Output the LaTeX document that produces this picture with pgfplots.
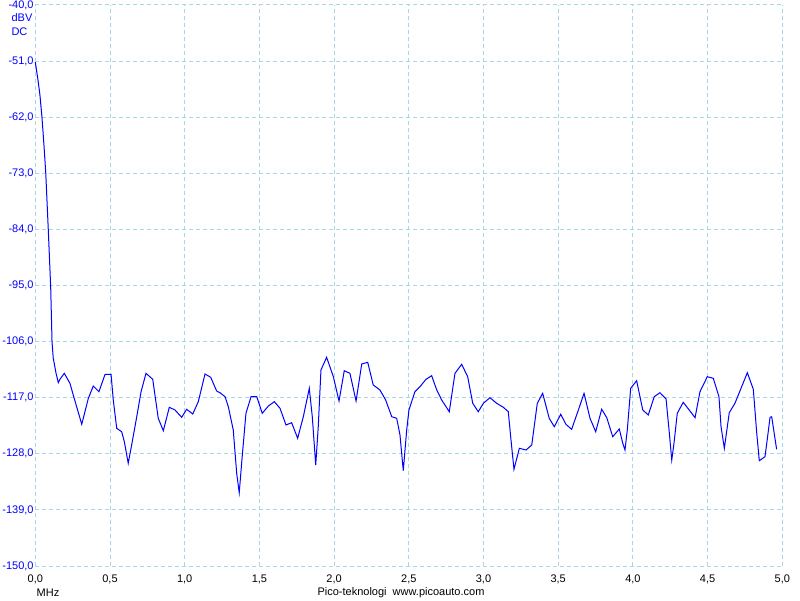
\documentclass[border=0pt]{standalone}
\usepackage{pgfplots}
\pgfplotsset{compat=1.18}
\usepackage{fontspec}
\setmainfont{Liberation Sans}
\definecolor{gridblue}{RGB}{165,215,230}
\definecolor{traceblue}{RGB}{0,0,255}
\begin{document}
\begin{tikzpicture}[x=1pt,y=1pt]
\path[use as bounding box] (0,0) rectangle (800,600);
\begin{axis}[
  at={(35.3pt,34pt)}, anchor=south west,
  scale only axis, width=747pt, height=561pt,
  xmin=0, xmax=5, ymin=-150, ymax=-40,
  xtick={0,0.5,1,1.5,2,2.5,3,3.5,4,4.5,5},
  xticklabels={{0,0},{0,5},{1,0},{1,5},{2,0},{2,5},{3,0},{3,5},{4,0},{4,5},{5,0}},
  ytick={-150,-139,-128,-117,-106,-95,-84,-73,-62,-51,-40},
  yticklabels={{-150,0},{-139,0},{-128,0},{-117,0},{-106,0},{-95,0},{-84,0},{-73,0},{-62,0},{-51,0},{-40,0}},
  grid=major,
  major grid style={gridblue, line width=1pt, dash pattern=on 4pt off 3pt},
  axis line style={draw=none},
  tick style={draw=none},
  yticklabel style={font=\fontsize{11}{12}\selectfont, text=traceblue, inner xsep=1.5pt},
  xticklabel style={font=\fontsize{11}{12}\selectfont, text=black, yshift=-5pt},
  clip=false,
]
\addplot[traceblue, line width=1pt] table {
x y
0.000 -51.2
0.018 -54.71
0.031 -57.65
0.045 -62.16
0.058 -67.45
0.070 -72.94
0.087 -84.12
0.103 -95.29
0.112 -106.08
0.120 -109.22
0.139 -112.22
0.154 -114.06
0.165 -113.39
0.194 -112.22
0.232 -114.18
0.254 -116.47
0.311 -122.22
0.355 -117.12
0.388 -114.71
0.426 -115.82
0.467 -112.41
0.507 -112.41
0.522 -117.45
0.545 -123.0
0.578 -123.67
0.596 -125.63
0.622 -129.86
0.645 -126.27
0.679 -120.73
0.708 -115.82
0.741 -112.22
0.786 -113.39
0.823 -121.04
0.857 -123.47
0.897 -118.88
0.935 -119.41
0.980 -120.84
1.013 -119.27
1.054 -120.20
1.091 -117.78
1.136 -112.35
1.174 -113.0
1.214 -115.69
1.236 -116.02
1.270 -116.80
1.292 -118.76
1.325 -123.33
1.348 -131.82
1.365 -135.63
1.382 -129.55
1.410 -120.06
1.444 -116.80
1.482 -116.80
1.519 -120.06
1.560 -118.63
1.600 -117.78
1.638 -119.08
1.678 -122.35
1.716 -121.90
1.756 -124.96
1.794 -120.73
1.834 -115.16
1.854 -120.73
1.877 -130.20
1.894 -122.69
1.912 -111.57
1.950 -109.08
1.995 -112.88
2.033 -117.65
2.068 -111.71
2.106 -112.22
2.147 -117.65
2.185 -110.39
2.225 -110.06
2.262 -114.51
2.307 -115.49
2.345 -117.45
2.386 -120.73
2.419 -121.04
2.441 -124.31
2.463 -131.31
2.486 -123.33
2.501 -119.41
2.541 -115.82
2.575 -114.84
2.615 -113.39
2.653 -112.69
2.687 -115.49
2.720 -117.45
2.771 -119.75
2.809 -112.22
2.854 -110.45
2.894 -112.88
2.928 -118.10
2.965 -119.75
2.999 -118.10
3.043 -117.0
3.088 -118.10
3.133 -118.88
3.166 -119.75
3.184 -125.29
3.204 -131.04
3.240 -126.92
3.285 -127.25
3.323 -126.27
3.360 -118.10
3.396 -116.14
3.440 -121.04
3.474 -122.69
3.517 -120.25
3.552 -122.22
3.590 -123.20
3.635 -119.41
3.673 -116.14
3.713 -121.04
3.751 -123.67
3.791 -119.27
3.825 -120.92
3.865 -124.65
3.909 -123.14
3.932 -125.94
3.947 -127.25
3.963 -123.20
3.985 -115.16
4.025 -113.67
4.066 -119.41
4.103 -120.39
4.143 -116.80
4.181 -116.02
4.222 -117.25
4.244 -123.98
4.260 -129.22
4.275 -125.94
4.297 -120.06
4.337 -117.90
4.377 -119.41
4.416 -120.92
4.449 -115.82
4.498 -112.88
4.538 -113.20
4.576 -116.80
4.590 -122.69
4.612 -126.92
4.645 -119.94
4.683 -118.10
4.766 -112.10
4.806 -115.35
4.829 -123.98
4.846 -129.35
4.884 -128.57
4.896 -125.94
4.918 -120.84
4.929 -120.73
4.962 -127.12
};
\end{axis}
\node[font=\fontsize{11}{12}\selectfont, text=traceblue] at (22,582) {dBV};
\node[font=\fontsize{11}{12}\selectfont, text=traceblue] at (19.5,568) {DC};
\node[font=\fontsize{11}{12}\selectfont] at (48,7) {MHz};
\node[font=\fontsize{11}{12}\selectfont] at (401,7) {Pico-teknologi\ \ www.picoauto.com};
\end{tikzpicture}
\end{document}
